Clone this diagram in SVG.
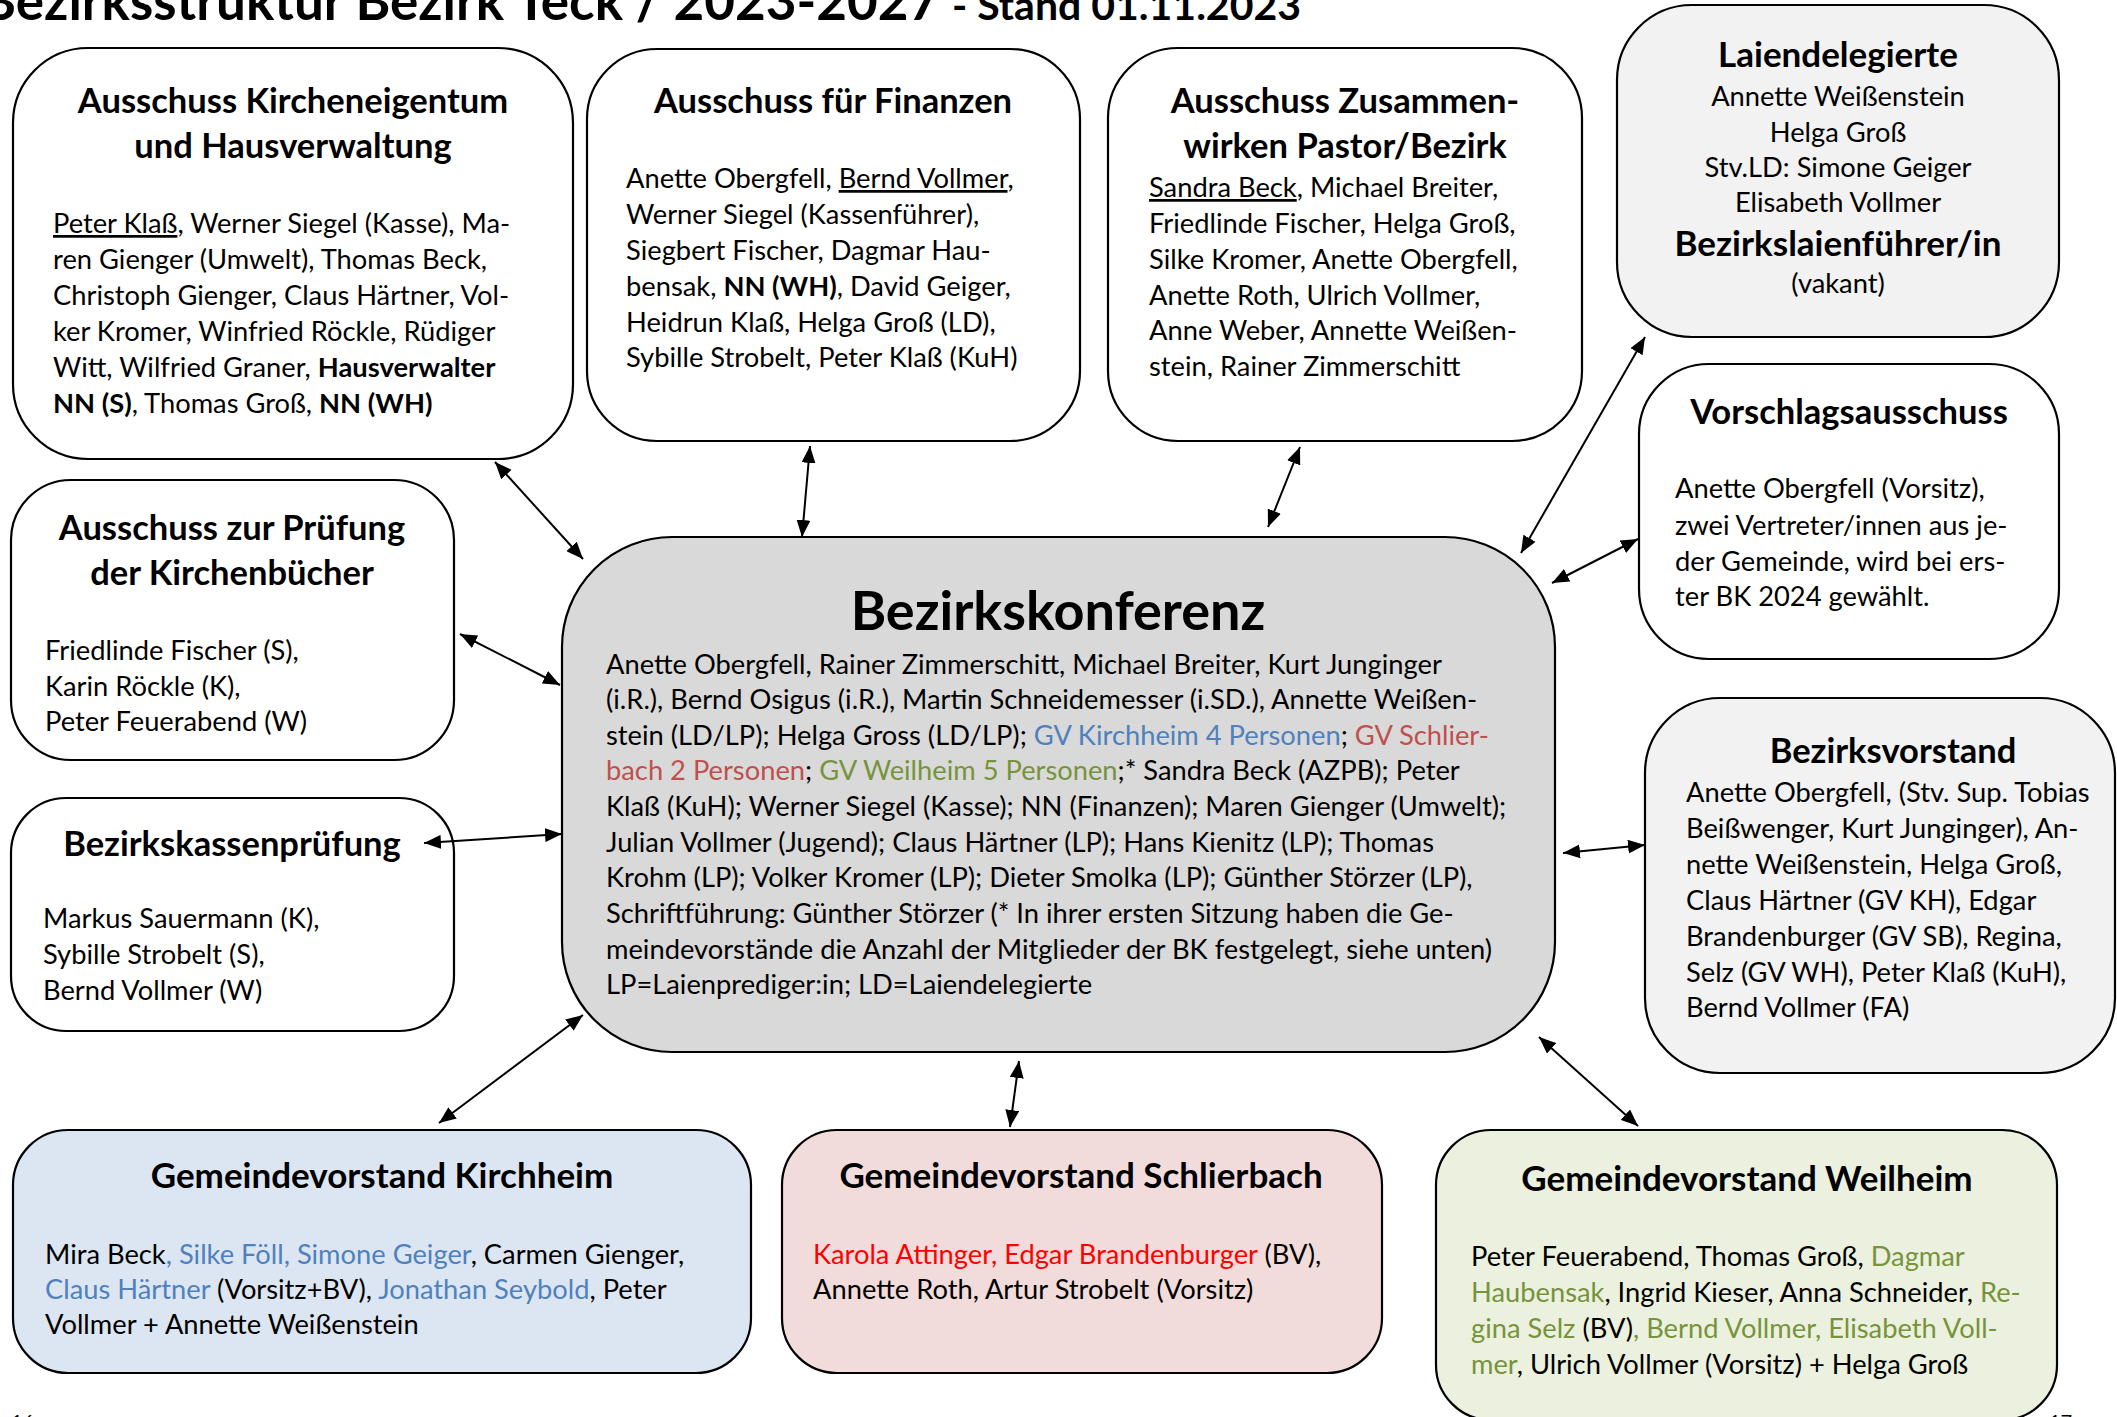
<svg xmlns="http://www.w3.org/2000/svg" width="2117" height="1417" viewBox="0 0 2117 1417">
<defs>
<style>
.box{stroke:#000;stroke-width:2.2}
.w{fill:#fff}.g{fill:#f2f2f2}.gk{fill:#d9d9d9}.kb{fill:#dce6f2}.sr{fill:#f2dcdb}.wg{fill:#ebf1de}
text{font-family:Lato,"Open Sans","Liberation Sans",sans-serif;fill:#000}
.t{font-size:27.3px}
.h{font-size:34.5px;font-weight:bold;text-anchor:middle}
.hg{font-size:35px}
.hb{font-size:54px}
.hl{font-size:35px}
.c{text-anchor:middle}
.b{font-weight:bold}
.u{text-decoration:underline}
.blue{fill:#4f81bd}.red{fill:#c0504d}.green{fill:#77933c}.bred{fill:#ff0000}
.ln{stroke:#000;stroke-width:2;fill:none;marker-start:url(#ah);marker-end:url(#ah)}
</style>
<marker id="ah" markerUnits="userSpaceOnUse" markerWidth="18" markerHeight="14" refX="17" refY="7" orient="auto-start-reverse">
<path d="M0,0 L17,7 L0,14 z" fill="#000"/>
</marker>
</defs>
<rect width="2117" height="1417" fill="#fff"/>

<g id="title">
<text x="1301" y="20" text-anchor="end" font-weight="bold"><tspan font-size="53">Bezirksstruktur Bezirk Teck / 2023-2027 </tspan><tspan font-size="41">- Stand 01.11.2023</tspan></text>
</g>

<g id="kircheneigentum">
<rect class="box w" x="13" y="48" width="560" height="411" rx="75"/>
<text class="h" x="293" y="113">Ausschuss Kircheneigentum</text>
<text class="h" x="293" y="158">und Hausverwaltung</text>
<text class="t" x="53" y="233"><tspan class="u">Peter Klaß</tspan>, Werner Siegel (Kasse), Ma-</text>
<text class="t" x="53" y="269">ren Gienger (Umwelt), Thomas Beck,</text>
<text class="t" x="53" y="305">Christoph Gienger, Claus Härtner, Vol-</text>
<text class="t" x="53" y="341">ker Kromer, Winfried Röckle, Rüdiger</text>
<text class="t" x="53" y="377">Witt, Wilfried Graner, <tspan class="b">Hausverwalter</tspan></text>
<text class="t" x="53" y="413"><tspan class="b">NN (S)</tspan>, Thomas Groß, <tspan class="b">NN (WH)</tspan></text>
</g>

<g id="finanzen">
<rect class="box w" x="587" y="49" width="493" height="392" rx="70"/>
<text class="h" x="833" y="113">Ausschuss für Finanzen</text>
<text class="t" x="626" y="188">Anette Obergfell, <tspan class="u">Bernd Vollmer</tspan>,</text>
<text class="t" x="626" y="224">Werner Siegel (Kassenführer),</text>
<text class="t" x="626" y="260">Siegbert Fischer, Dagmar Hau-</text>
<text class="t" x="626" y="296">bensak, <tspan class="b">NN (WH)</tspan>, David Geiger,</text>
<text class="t" x="626" y="332">Heidrun Klaß, Helga Groß (LD),</text>
<text class="t" x="626" y="367">Sybille Strobelt, Peter Klaß (KuH)</text>
</g>

<g id="zusammenwirken">
<rect class="box w" x="1108" y="48" width="474" height="393" rx="70"/>
<text class="h" x="1345" y="113">Ausschuss Zusammen-</text>
<text class="h" x="1345" y="158">wirken Pastor/Bezirk</text>
<text class="t" x="1149" y="197"><tspan class="u">Sandra Beck</tspan>, Michael Breiter,</text>
<text class="t" x="1149" y="233">Friedlinde Fischer, Helga Groß,</text>
<text class="t" x="1149" y="269">Silke Kromer, Anette Obergfell,</text>
<text class="t" x="1149" y="305">Anette Roth, Ulrich Vollmer,</text>
<text class="t" x="1149" y="340">Anne Weber, Annette Weißen-</text>
<text class="t" x="1149" y="376">stein, Rainer Zimmerschitt</text>
</g>

<g id="laiendelegierte">
<rect class="box g" x="1617" y="5" width="442" height="332" rx="75"/>
<text class="h hl" x="1838" y="67">Laiendelegierte</text>
<text class="t c" x="1838" y="106">Annette Weißenstein</text>
<text class="t c" x="1838" y="142">Helga Groß</text>
<text class="t c" x="1838" y="177">Stv.LD: Simone Geiger</text>
<text class="t c" x="1838" y="212">Elisabeth Vollmer</text>
<text class="h hl" x="1838" y="256">Bezirkslaienführer/in</text>
<text class="t c" x="1838" y="293">(vakant)</text>
</g>

<g id="vorschlagsausschuss">
<rect class="box w" x="1639" y="364" width="420" height="295" rx="70"/>
<text class="h" x="1849" y="424">Vorschlagsausschuss</text>
<text class="t" x="1675" y="498">Anette Obergfell (Vorsitz),</text>
<text class="t" x="1675" y="535">zwei Vertreter/innen aus je-</text>
<text class="t" x="1675" y="571">der Gemeinde, wird bei ers-</text>
<text class="t" x="1675" y="606">ter BK 2024 gewählt.</text>
</g>

<g id="kirchenbuecher">
<rect class="box w" x="11" y="480" width="443" height="280" rx="60"/>
<text class="h" x="232" y="540">Ausschuss zur Prüfung</text>
<text class="h" x="232" y="585">der Kirchenbücher</text>
<text class="t" x="45" y="660">Friedlinde Fischer (S),</text>
<text class="t" x="45" y="696">Karin Röckle (K),</text>
<text class="t" x="45" y="731">Peter Feuerabend (W)</text>
</g>

<g id="kassenpruefung">
<rect class="box w" x="11" y="798" width="443" height="233" rx="55"/>
<text class="h" x="232" y="856">Bezirkskassenprüfung</text>
<text class="t" x="43" y="928">Markus Sauermann (K),</text>
<text class="t" x="43" y="964">Sybille Strobelt (S),</text>
<text class="t" x="43" y="1000">Bernd Vollmer (W)</text>
</g>

<g id="bezirkskonferenz">
<rect class="box gk" x="562" y="537" width="993" height="515" rx="110"/>
<text class="h hb" x="1058" y="630">Bezirkskonferenz</text>
<text class="t" x="606" y="674">Anette Obergfell, Rainer Zimmerschitt, Michael Breiter, Kurt Junginger</text>
<text class="t" x="606" y="709">(i.R.), Bernd Osigus (i.R.), Martin Schneidemesser (i.SD.), Annette Weißen-</text>
<text class="t" x="606" y="745">stein (LD/LP); Helga Gross (LD/LP); <tspan class="blue">GV Kirchheim 4 Personen</tspan>; <tspan class="red">GV Schlier-</tspan></text>
<text class="t" x="606" y="780"><tspan class="red">bach 2 Personen</tspan>; <tspan class="green">GV Weilheim 5 Personen</tspan>;* Sandra Beck (AZPB); Peter</text>
<text class="t" x="606" y="816">Klaß (KuH); Werner Siegel (Kasse); NN (Finanzen); Maren Gienger (Umwelt);</text>
<text class="t" x="606" y="852">Julian Vollmer (Jugend); Claus Härtner (LP); Hans Kienitz (LP); Thomas</text>
<text class="t" x="606" y="887">Krohm (LP); Volker Kromer (LP); Dieter Smolka (LP); Günther Störzer (LP),</text>
<text class="t" x="606" y="923">Schriftführung: Günther Störzer (* In ihrer ersten Sitzung haben die Ge-</text>
<text class="t" x="606" y="959">meindevorstände die Anzahl der Mitglieder der BK festgelegt, siehe unten)</text>
<text class="t" x="606" y="994">LP=Laienprediger:in; LD=Laiendelegierte</text>
</g>

<g id="bezirksvorstand">
<rect class="box g" x="1645" y="698" width="470" height="375" rx="75"/>
<text class="h" x="1893" y="763">Bezirksvorstand</text>
<text class="t" x="1686" y="802">Anette Obergfell, (Stv. Sup. Tobias</text>
<text class="t" x="1686" y="838">Beißwenger, Kurt Junginger), An-</text>
<text class="t" x="1686" y="874">nette Weißenstein, Helga Groß,</text>
<text class="t" x="1686" y="910">Claus Härtner (GV KH), Edgar</text>
<text class="t" x="1686" y="946">Brandenburger (GV SB), Regina,</text>
<text class="t" x="1686" y="982">Selz (GV WH), Peter Klaß (KuH),</text>
<text class="t" x="1686" y="1017">Bernd Vollmer (FA)</text>
</g>

<g id="gv-kirchheim">
<rect class="box kb" x="13" y="1130" width="738" height="243" rx="55"/>
<text class="h hg" x="382" y="1188">Gemeindevorstand Kirchheim</text>
<text class="t" x="45" y="1264">Mira Beck<tspan class="blue">, Silke Föll, Simone Geiger</tspan>, Carmen Gienger,</text>
<text class="t" x="45" y="1299"><tspan class="blue">Claus Härtner</tspan> (Vorsitz+BV), <tspan class="blue">Jonathan Seybold</tspan>, Peter</text>
<text class="t" x="45" y="1334">Vollmer + Annette Weißenstein</text>
</g>

<g id="gv-schlierbach">
<rect class="box sr" x="782" y="1130" width="600" height="243" rx="55"/>
<text class="h hg" x="1081" y="1188">Gemeindevorstand Schlierbach</text>
<text class="t" x="813" y="1264"><tspan class="bred">Karola Attinger, Edgar Brandenburger</tspan> (BV),</text>
<text class="t" x="813" y="1299">Annette Roth, Artur Strobelt (Vorsitz)</text>
</g>

<g id="gv-weilheim">
<rect class="box wg" x="1436" y="1130" width="621" height="290" rx="55"/>
<text class="h hg" x="1747" y="1191">Gemeindevorstand Weilheim</text>
<text class="t" x="1471" y="1266">Peter Feuerabend, Thomas Groß, <tspan class="green">Dagmar</tspan></text>
<text class="t" x="1471" y="1302"><tspan class="green">Haubensak</tspan>, Ingrid Kieser, Anna Schneider, <tspan class="green">Re-</tspan></text>
<text class="t" x="1471" y="1338"><tspan class="green">gina Selz</tspan> (BV)<tspan class="green">, Bernd Vollmer, Elisabeth Voll-</tspan></text>
<text class="t" x="1471" y="1374"><tspan class="green">mer</tspan>, Ulrich Vollmer (Vorsitz) + Helga Groß</text>
</g>

<g id="connectors">
<line class="ln" x1="495" y1="462" x2="583" y2="559"/>
<line class="ln" x1="810" y1="446" x2="802" y2="537"/>
<line class="ln" x1="1300" y1="447" x2="1268" y2="527"/>
<line class="ln" x1="1645" y1="337" x2="1521" y2="553"/>
<line class="ln" x1="1638" y1="539" x2="1552" y2="583"/>
<line class="ln" x1="460" y1="634" x2="560" y2="685"/>
<line class="ln" x1="424" y1="843" x2="562" y2="834"/>
<line class="ln" x1="1563" y1="853" x2="1645" y2="845"/>
<line class="ln" x1="583" y1="1015" x2="439" y2="1123"/>
<line class="ln" x1="1019" y1="1061" x2="1010" y2="1127"/>
<line class="ln" x1="1539" y1="1037" x2="1638" y2="1126"/>
</g>

<g id="pagenumbers">
<text x="11" y="1429" font-size="20">16</text>
<text x="2049" y="1429" font-size="20">17</text>
</g>
</svg>
